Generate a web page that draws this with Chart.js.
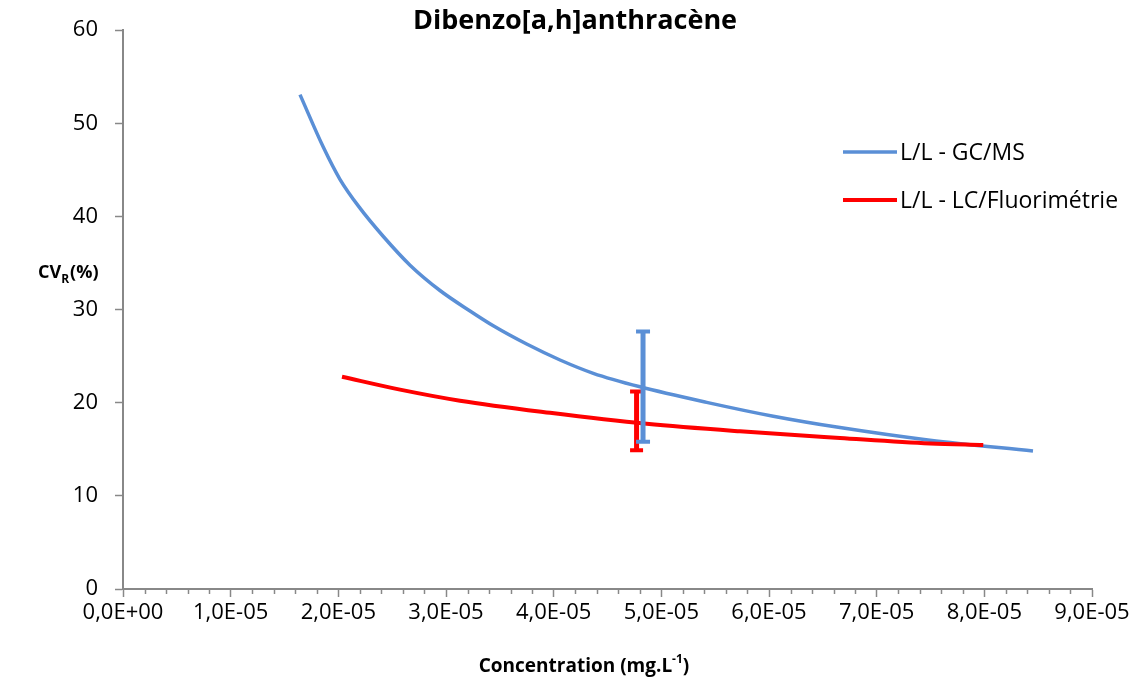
<!DOCTYPE html>
<html>
<head>
<meta charset="utf-8">
<script src="https://cdn.jsdelivr.net/npm/chart.js@4.4.1/dist/chart.umd.min.js"></script>
<style>
  html, body { margin: 0; padding: 0; background: #fff; }
  #wrap { width: 1136px; height: 680px; position: relative; }
</style>
</head>
<body>
<div id="wrap"><canvas id="cv" width="1136" height="680"></canvas></div>
<script>
// CV_R vs concentration for Dibenzo[a,h]anthracene, two L/L methods
const gcmsConc = [1.644e-5, 1.860e-5, 2.015e-5, 2.201e-5, 2.418e-5, 2.666e-5, 2.944e-5, 3.223e-5, 3.439e-5,
                  3.749e-5, 4.059e-5, 4.368e-5, 4.802e-5, 5.421e-5, 6.040e-5, 6.659e-5, 7.495e-5, 8.452e-5];
const gcmsCv   = [53.08, 47.45, 43.99, 40.89, 37.85, 34.77, 32.05, 29.85, 28.26,
                  26.30, 24.59, 23.16, 21.71, 20.04, 18.55, 17.33, 15.97, 14.81];

const lcConc = [2.034e-5, 2.573e-5, 3.130e-5, 3.966e-5, 4.864e-5, 5.730e-5, 6.659e-5, 7.495e-5, 7.990e-5];
const lcCv   = [22.79, 21.41, 20.22, 18.92, 17.74, 16.93, 16.22, 15.63, 15.45];

// single error bar per method: [conc, low, high]
const gcmsBar = [4.83e-5, 15.80, 27.64];
const lcBar   = [4.77e-5, 14.91, 21.20];

const seriesNames = ['L/L - GC/MS', 'L/L - LC/Fluorimétrie'];
const xTickLabels = ['0,0E+00', '1,0E-05', '2,0E-05', '3,0E-05', '4,0E-05',
                     '5,0E-05', '6,0E-05', '7,0E-05', '8,0E-05', '9,0E-05'];

const BLUE = '#5a8fd6';
const RED = '#ff0000';
const AXIS = '#888888';
const FONT = '"Open Sans", Lato, sans-serif';

function pts(xs, ys) { return xs.map((x, i) => ({ x: x, y: ys[i] })); }
function bar(b) { return [{ x: b[0], y: b[1] }, { x: b[0], y: b[2] }]; }

// title, axis titles (with sub/superscript), legend and minor x ticks
const decor = {
  id: 'decor',
  afterDraw(chart) {
    const ctx = chart.ctx;
    const xs = chart.scales.x;
    const area = chart.chartArea;
    ctx.save();

    // minor ticks on x axis
    ctx.strokeStyle = AXIS;
    ctx.lineWidth = 1.5;
    for (let i = 1; i < 45; i++) {
      if (i % 5 === 0) continue;
      const px = Math.round(xs.getPixelForValue(i * 2e-6)) + 0.5;
      ctx.beginPath();
      ctx.moveTo(px, area.bottom);
      ctx.lineTo(px, area.bottom + 5);
      ctx.stroke();
    }

    ctx.fillStyle = '#000';
    ctx.textBaseline = 'alphabetic';

    // chart title
    ctx.font = 'bold 27px ' + FONT;
    ctx.textAlign = 'center';
    ctx.fillText('Dibenzo[a,h]anthracène', 575, 29);

    // y title: CV_R(%)
    ctx.textAlign = 'left';
    let x = 38;
    ctx.font = 'bold 18px ' + FONT;
    ctx.fillText('CV', x, 278);
    x += ctx.measureText('CV').width;
    ctx.font = 'bold 12px ' + FONT;
    ctx.fillText('R', x, 283);
    x += ctx.measureText('R').width + 1;
    ctx.font = 'bold 18px ' + FONT;
    ctx.fillText('(%)', x, 278);

    // x title: Concentration (mg.L-1)
    const a = 'Concentration (mg.L', sup = '-1', b = ')';
    ctx.font = 'bold 19px ' + FONT;
    const wa = ctx.measureText(a).width, wb = ctx.measureText(b).width;
    ctx.font = 'bold 12px ' + FONT;
    const ws = ctx.measureText(sup).width;
    x = 584 - (wa + ws + wb) / 2;
    ctx.font = 'bold 19px ' + FONT;
    ctx.fillText(a, x, 672);
    ctx.font = 'bold 12px ' + FONT;
    ctx.fillText(sup, x + wa, 663);
    ctx.font = 'bold 19px ' + FONT;
    ctx.fillText(b, x + wa + ws, 672);

    // legend
    const items = [[seriesNames[0], BLUE, 3.5, 152], [seriesNames[1], RED, 4, 200]];
    ctx.font = '23px ' + FONT;
    ctx.textBaseline = 'middle';
    for (const it of items) {
      ctx.strokeStyle = it[1];
      ctx.lineWidth = it[2];
      ctx.beginPath();
      ctx.moveTo(843, it[3]);
      ctx.lineTo(897, it[3]);
      ctx.stroke();
      ctx.fillStyle = '#000';
      ctx.fillText(it[0], 900, it[3] + 1);
    }
    ctx.restore();
  }
};

const chart = new Chart(document.getElementById('cv'), {
  type: 'line',
  data: {
    datasets: [
      { label: seriesNames[0], data: pts(gcmsConc, gcmsCv), borderColor: BLUE, borderWidth: 3.5,
        pointRadius: 0, cubicInterpolationMode: 'monotone', order: 4 },
      { label: seriesNames[1], data: pts(lcConc, lcCv), borderColor: RED, borderWidth: 4,
        pointRadius: 0, cubicInterpolationMode: 'monotone', order: 3 },
      { label: 'err1', data: bar(lcBar), borderColor: RED, borderWidth: 5,
        pointStyle: 'line', pointRadius: 6.5, pointBorderColor: RED, pointBorderWidth: 4, order: 2 },
      { label: 'err0', data: bar(gcmsBar), borderColor: BLUE, borderWidth: 5,
        pointStyle: 'line', pointRadius: 7, pointBorderColor: BLUE, pointBorderWidth: 4, order: 1 }
    ]
  },
  options: {
    responsive: false,
    animation: false,
    layout: { padding: { top: 23, right: 44, left: 0, bottom: 0 } },
    plugins: { legend: { display: false }, title: { display: false }, tooltip: { enabled: false } },
    scales: {
      x: {
        type: 'linear', min: 0, max: 9e-5,
        afterFit: s => { s.height = 91; },
        border: { color: AXIS, width: 2 },
        grid: { drawOnChartArea: false, tickLength: 8, tickColor: AXIS, tickWidth: 1.5 },
        ticks: {
          stepSize: 1e-5, autoSkip: false, maxRotation: 0, padding: 3,
          color: '#000', font: { family: FONT, size: 22 },
          callback: (v, i) => xTickLabels[i]
        }
      },
      y: {
        min: 0, max: 60,
        afterFit: s => { s.width = 123; },
        border: { color: AXIS, width: 2 },
        grid: { drawOnChartArea: false, tickLength: 8, tickColor: AXIS, tickWidth: 1.5 },
        ticks: { stepSize: 10, padding: 17, color: '#000', font: { family: FONT, size: 22 } }
      }
    }
  },
  plugins: [decor]
});
</script>
</body>
</html>
